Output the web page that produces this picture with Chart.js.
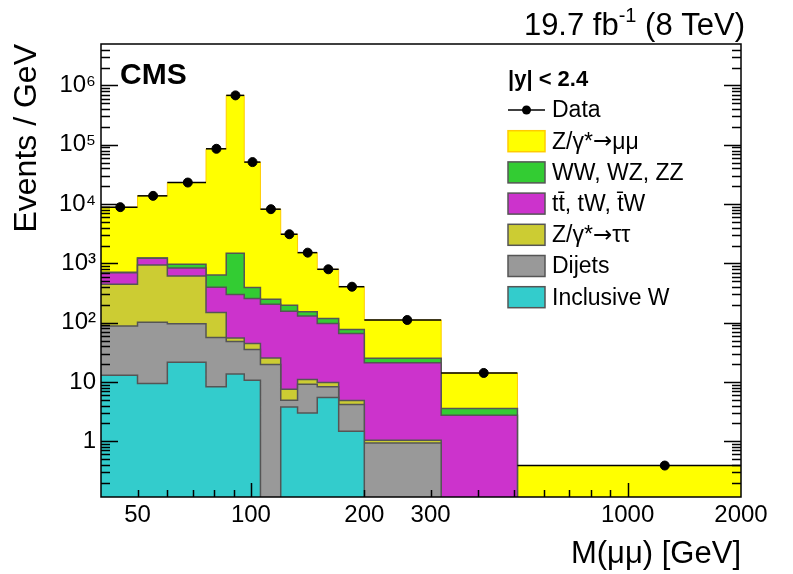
<!DOCTYPE html>
<html>
<head>
<meta charset="UTF-8">
<title>Dimuon invariant mass</title>
<script src="https://cdn.jsdelivr.net/npm/chart.js"></script>
<style>
  body { margin: 0; background: #fff; }
  canvas { display: block; }
</style>
</head>
<body>
<canvas id="massChart" width="793" height="574"></canvas>
<script>
// bin edges, M(mumu) in GeV
const binEdges = [40, 50, 60, 76, 86, 96, 106, 120, 133, 150, 171, 200, 320, 510, 2000];

// events / GeV for each process (one value per bin), stacked bottom to top
const inclusiveW = [13, 9.4, 21.6, 8.3, 13.6, 10.7, 0, 3.8, 3.0, 5.5, 1.48, 0, 0, 0];
const dijets     = [75, 92.6, 74, 47.7, 34.7, 24.7, 19.8, 1.13, 6.2, 2.8, 2.69, 0.94, 0, 0];
const zTauTau    = [356, 838, 516, 93, 6.7, 9.3, 5.7, 2.62, 1.8, 1.5, 0.7, 0.1, 0, 0];
const topBkg     = [253, 280, 224, 246, 243, 212, 180, 149, 118, 87, 61, 20, 2.75, 0];
const diboson    = [10, 10, 129, 242, 1184, 135, 42, 41, 24, 21, 11, 4, 0.82, 0];
const zMuMu      = [8160, 12530, 22100, 84860, 678500, 50600, 7950, 2900, 1364, 677, 327, 86, 10.6, 0.39];

// measured data, events / GeV
const dataY = [8870, 13760, 23070, 85500, 680000, 51000, 8200, 3100, 1517, 795, 404, 111, 14.2, 0.39];

// axis labels
const xTickLabels = [50, 100, 200, 300, 1000, 2000];
const yTickLabels = ['1', '10', '10²', '10³', '10⁴', '10⁵', '10⁶'];

// legend
const legendNames = ['Z/γ*→μμ', 'WW, WZ, ZZ', 'tt̄, tW, t̄W', 'Z/γ*→ττ', 'Dijets', 'Inclusive W'];

// styles (bottom to top of the stack)
const layers = [inclusiveW, dijets, zTauTau, topBkg, diboson, zMuMu];
const fillColors = ['#33cccc', '#999999', '#cccc33', '#cc33cc', '#33cc33', '#ffff00'];
const lineColors = ['#555555', '#555555', '#555555', '#555555', '#555555', '#ffcc00'];
const FONT = "'Liberation Sans', Arial, Helvetica, sans-serif";
const FLOOR = 1e-3; // empty bins sit below the axis

const nBins = binEdges.length - 1;

// running sums for the stack
let running = new Array(nBins).fill(0);
const stackTops = layers.map(arr => {
    running = running.map((v, i) => v + arr[i]);
    return running.slice();
});

function stepPoints(vals) {
    const pts = vals.map((v, i) => ({ x: binEdges[i], y: v > 0 ? v : FLOOR }));
    const last = vals[nBins - 1];
    pts.push({ x: binEdges[nBins], y: last > 0 ? last : FLOOR });
    return pts;
}

const dataPoints = dataY.map((v, i) => ({ x: (binEdges[i] + binEdges[i + 1]) / 2, y: v }));

const datasets = [{
    label: 'Data',
    data: dataPoints,
    showLine: false,
    pointRadius: 4.5,
    pointHoverRadius: 4.5,
    pointBackgroundColor: '#000',
    pointBorderColor: '#000'
}];
// dataset 0 is painted last, so the bottom layer goes first
stackTops.forEach((tops, k) => {
    datasets.push({
        label: k,
        data: stepPoints(tops),
        stepped: true,
        fill: 'start',
        backgroundColor: fillColors[k],
        borderColor: lineColors[k],
        borderWidth: k === 5 ? 1 : 1.5,
        pointRadius: 0,
        pointHoverRadius: 0
    });
});

// text with a full size arrow (the Liberation one is tiny)
function arrowText(ctx, str, x, y, size) {
    const parts = str.split('→');
    parts.forEach((p, i) => {
        ctx.font = size + 'px ' + FONT;
        ctx.fillText(p, x, y);
        x += ctx.measureText(p).width;
        if (i < parts.length - 1) {
            ctx.font = size + "px 'DejaVu Sans', sans-serif";
            ctx.fillText('→', x, y);
            x += ctx.measureText('→').width;
        }
    });
}

const overlay = {
    id: 'overlay',
    afterDatasetsDraw(chart) {
        // horizontal bars of the data = bin width
        const ctx = chart.ctx, xs = chart.scales.x, ys = chart.scales.y;
        ctx.save();
        ctx.strokeStyle = '#000';
        ctx.lineWidth = 1.5;
        dataY.forEach((v, i) => {
            const y = ys.getPixelForValue(v);
            ctx.beginPath();
            ctx.moveTo(xs.getPixelForValue(binEdges[i]), y);
            ctx.lineTo(xs.getPixelForValue(binEdges[i + 1]), y);
            ctx.stroke();
        });
        ctx.restore();
    },
    afterDraw(chart) {
        const ctx = chart.ctx, a = chart.chartArea;
        const xs = chart.scales.x, ys = chart.scales.y;
        ctx.save();
        ctx.strokeStyle = '#000';
        ctx.lineWidth = 1.5;

        // y ticks, left and right, inward
        for (let k = -1; k <= 6; k++) {
            for (let m = 1; m <= 9; m++) {
                const v = m * Math.pow(10, k);
                if (v <= ys.min || v >= ys.max) continue;
                const y = Math.round(ys.getPixelForValue(v)) + 0.5;
                const len = m === 1 ? 17 : 9;
                ctx.beginPath();
                ctx.moveTo(a.left, y); ctx.lineTo(a.left + len, y);
                ctx.moveTo(a.right, y); ctx.lineTo(a.right - len, y);
                ctx.stroke();
            }
        }
        // x ticks, bottom, inward
        for (let k = 1; k <= 3; k++) {
            for (let m = 1; m <= 9; m++) {
                const v = m * Math.pow(10, k);
                if (v <= xs.min || v >= xs.max) continue;
                const x = Math.round(xs.getPixelForValue(v)) + 0.5;
                const len = m === 1 ? 14 : 7;
                ctx.beginPath();
                ctx.moveTo(x, a.bottom); ctx.lineTo(x, a.bottom - len);
                ctx.stroke();
            }
        }
        // frame
        ctx.strokeRect(a.left, a.top, a.right - a.left, a.bottom - a.top);

        // CMS label
        ctx.fillStyle = '#000';
        ctx.textBaseline = 'alphabetic';
        ctx.textAlign = 'left';
        ctx.font = 'bold 30px ' + FONT;
        ctx.fillText('CMS', a.left + 19, 84);

        // luminosity label, right aligned with superscript
        const big = '31px ' + FONT, small = '20px ' + FONT;
        ctx.font = big;
        const w1 = ctx.measureText('19.7 fb').width;
        const w3 = ctx.measureText(' (8 TeV)').width;
        ctx.font = small;
        const w2 = ctx.measureText('-1').width;
        let x0 = a.right + 4 - (w1 + w2 + w3);
        ctx.font = big;
        ctx.fillText('19.7 fb', x0, 35);
        ctx.font = small;
        ctx.fillText('-1', x0 + w1, 22);
        ctx.font = big;
        ctx.fillText(' (8 TeV)', x0 + w1 + w2, 35);

        // legend
        const lx = 508, boxW = 37, boxH = 21, step = 31.2;
        ctx.font = 'bold 22px ' + FONT;
        ctx.fillText('|y| < 2.4', lx, 86);
        ctx.textBaseline = 'middle';
        let cy = 110;
        // data entry
        ctx.beginPath();
        ctx.moveTo(lx, cy); ctx.lineTo(lx + boxW, cy);
        ctx.stroke();
        ctx.beginPath();
        ctx.arc(lx + boxW / 2, cy, 4.5, 0, Math.PI * 2);
        ctx.fill();
        arrowText(ctx, 'Data', lx + 44, cy + 1, 23);
        // stack entries, top layer first
        legendNames.forEach((name, j) => {
            const k = 5 - j;
            cy = 110 + step * (j + 1);
            ctx.fillStyle = fillColors[k];
            ctx.fillRect(lx, cy - boxH / 2, boxW, boxH);
            ctx.strokeStyle = k === 5 ? '#ffcc00' : '#555555';
            ctx.lineWidth = 1.5;
            ctx.strokeRect(lx, cy - boxH / 2, boxW, boxH);
            ctx.fillStyle = '#000';
            arrowText(ctx, name, lx + 44, cy + 1, 23);
        });
        ctx.restore();
    }
};

new Chart(document.getElementById('massChart'), {
    type: 'line',
    data: { datasets: datasets },
    options: {
        responsive: false,
        animation: false,
        devicePixelRatio: 1,
        events: [],
        layout: { padding: { top: 44, right: 52, left: 0, bottom: 0 } },
        plugins: { legend: { display: false }, tooltip: { enabled: false } },
        scales: {
            x: {
                type: 'logarithmic',
                min: 40,
                max: 2000,
                afterFit(s) { s.height = 77; },
                afterBuildTicks(s) { s.ticks = xTickLabels.map(v => ({ value: v })); },
                grid: { display: false, drawTicks: false },
                border: { display: false },
                ticks: {
                    autoSkip: false,
                    maxRotation: 0,
                    padding: 4,
                    color: '#000',
                    font: { family: FONT, size: 24 },
                    callback: v => String(v)
                },
                title: {
                    display: true,
                    text: 'M(μμ) [GeV]',
                    align: 'end',
                    color: '#000',
                    font: { family: FONT, size: 31 },
                    padding: { top: 0, bottom: 1 }
                }
            },
            y: {
                type: 'logarithmic',
                min: 0.115,
                max: 5e6,
                afterFit(s) { s.width = 101; },
                afterBuildTicks(s) { s.ticks = yTickLabels.map((t, i) => ({ value: Math.pow(10, i) })); },
                grid: { display: false, drawTicks: false },
                border: { display: false },
                ticks: {
                    autoSkip: false,
                    padding: 5,
                    color: '#000',
                    font: { family: FONT, size: 24 },
                    callback: (v, i) => yTickLabels[i]
                },
                title: {
                    display: true,
                    text: 'Events / GeV',
                    align: 'end',
                    color: '#000',
                    font: { family: FONT, size: 32 },
                    padding: { top: 8, bottom: 0 }
                }
            }
        }
    },
    plugins: [overlay]
});
</script>
</body>
</html>
